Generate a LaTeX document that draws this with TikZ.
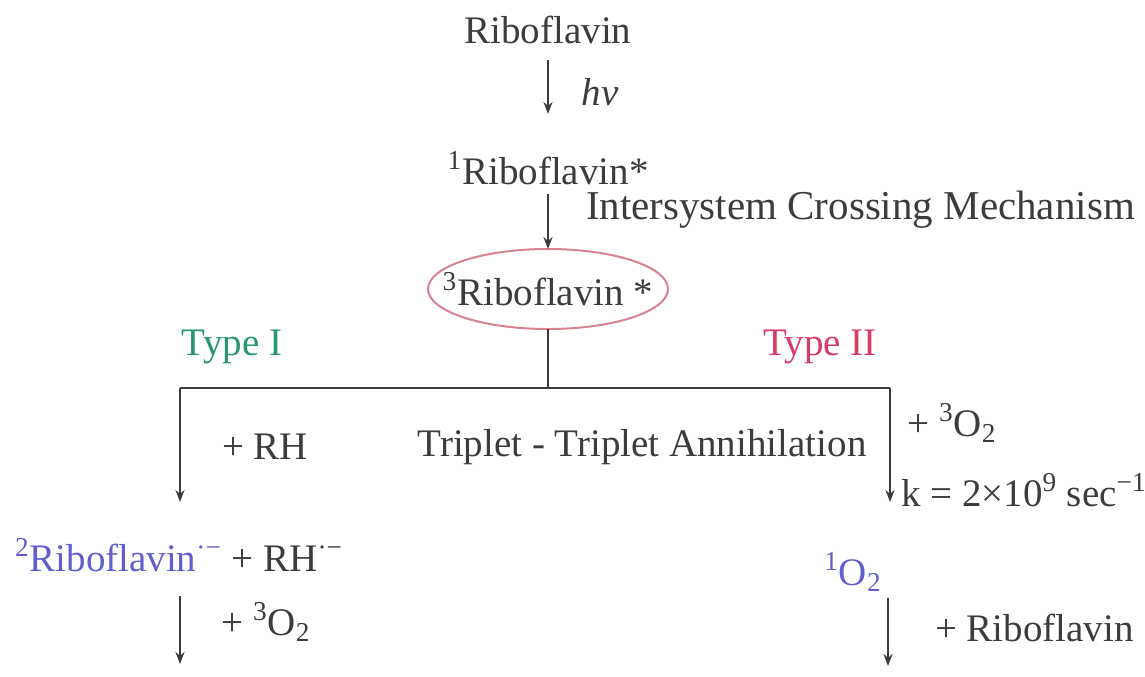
\documentclass[tikz,border=0pt]{standalone}
\usepackage{fontspec}
\setmainfont{Liberation Serif}
\usetikzlibrary{arrows.meta}

\definecolor{inkgray}{RGB}{60,60,60}
\definecolor{typeonegreen}{RGB}{40,150,110}
\definecolor{typetwored}{RGB}{215,60,100}
\definecolor{radblue}{RGB}{95,95,205}
\definecolor{ovalpink}{RGB}{215,130,145}

\tikzset{every picture/.style={line width=1pt}}
\tikzset{
  chem/.style={text=inkgray, font=\fontsize{19.5}{22}\selectfont, inner sep=1pt},
  step arrow/.style={draw=inkgray, -{Stealth[length=6pt,width=4.5pt]}},
  branch/.style={draw=inkgray}
}

\begin{document}
\begin{tikzpicture}[x=0.5pt,y=0.5pt,yscale=-1]
        \useasboundingbox (0,0) rectangle (1145,676);
        % species
        \node [chem] (rib) at (548,30) {Riboflavin};
        \node [chem] (ribsinglet) at (548,168) {\textsuperscript{1}Riboflavin*};
        \node [chem] (ribtriplet) at (548,289) {\textsuperscript{3}Riboflavin *};
        \draw [ovalpink] (ribtriplet.center) ellipse [x radius=120, y radius=40];
        \node [chem, anchor=west] (radical) at (12,555) {\textcolor{radblue}{\textsuperscript{2}Riboflavin\textsuperscript{·−}} + RH\textsuperscript{·−}};
        \node [chem, text=radblue] (singletox) at (853,572) {\textsuperscript{1}O\textsubscript{2}};
        % junctions and free ends
        \coordinate (lightstart) at (548,60);
        \coordinate (lightend) at (548,114);
        \coordinate (iscstart) at (548,194);
        \coordinate (ovaltop) at (548,249);
        \coordinate (ovalbottom) at (548,329);
        \coordinate (split) at (548,388);
        \coordinate (leftcorner) at (180,388);
        \coordinate (rightcorner) at (890,388);
        \coordinate (leftend) at (180,502);
        \coordinate (rightend) at (890,502);
        \coordinate (lowleftstart) at (180,596);
        \coordinate (lowleftend) at (180,664);
        \coordinate (lowrightstart) at (888,598);
        \coordinate (lowrightend) at (888,666);
        % connectors
        \draw [step arrow] (lightstart) -- (lightend);
        \draw [step arrow] (iscstart) -- (ovaltop);
        \draw [branch] (ovalbottom) -- (split);
        \draw [branch] (leftcorner) -- (rightcorner);
        \draw [step arrow] (leftcorner) -- (leftend);
        \draw [step arrow] (rightcorner) -- (rightend);
        \draw [step arrow] (lowleftstart) -- (lowleftend);
        \draw [step arrow] (lowrightstart) -- (lowrightend);
        % labels
        \node [chem] (light) at (600,92) {\textit{hν}};
        \node [chem, anchor=west, font=\fontsize{20.5}{22}\selectfont] (isc) at (583,210) {Intersystem Crossing Mechanism};
        \node [chem, text=typeonegreen] (typeone) at (232,347) {Type I};
        \node [chem, text=typetwored] (typetwo) at (820,347) {Type II};
        \node [chem] (plusrh) at (265,447) {+ RH};
        \node [chem] (tta) at (642,447) {Triplet - Triplet Annihilation};
        \node [chem] (plusoxright) at (952,423) {+ \textsuperscript{3}O\textsubscript{2}};
        \node [chem, anchor=west] (rate) at (898,490) {k = 2×10\textsuperscript{9} sec\textsuperscript{−1}};
        \node [chem] (plusoxleft) at (266,622) {+ \textsuperscript{3}O\textsubscript{2}};
        \node [chem, anchor=west] (plusrib) at (932,628) {+ Riboflavin};
\end{tikzpicture}
\end{document}
